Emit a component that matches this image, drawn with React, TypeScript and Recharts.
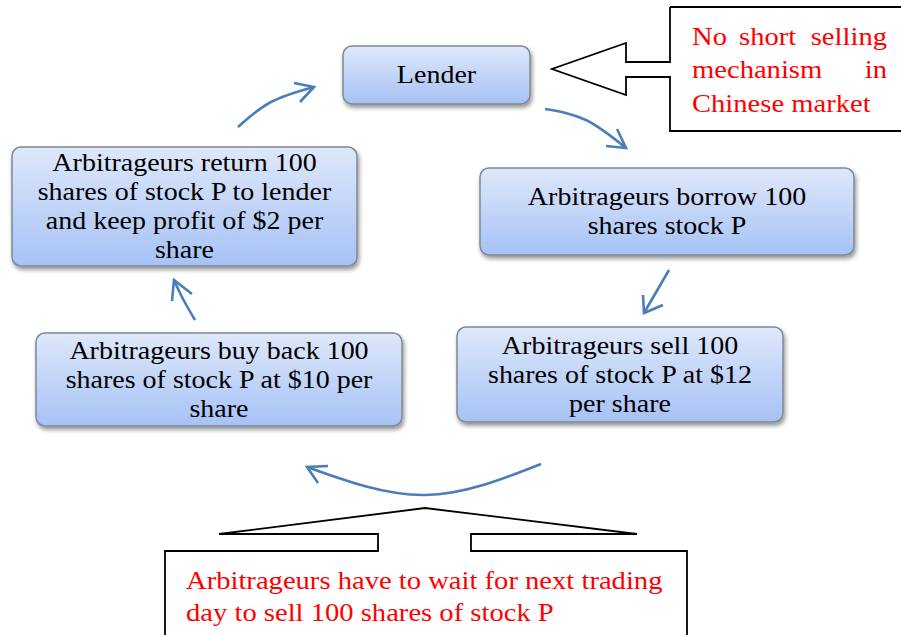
import React from 'react';
import { ComposedChart, Line, XAxis, YAxis, ReferenceArea } from 'recharts';

const W = 901;
const H = 635;

// step boxes (diagram units = pixels of the original figure)
const boxLabels = [
  ['Lender'],
  ['Arbitrageurs return 100', 'shares of stock P to lender', 'and keep profit of $2 per', 'share'],
  ['Arbitrageurs borrow 100', 'shares stock P'],
  ['Arbitrageurs buy back 100', 'shares of stock P at $10 per', 'share'],
  ['Arbitrageurs sell 100', 'shares of stock P at $12', 'per share'],
];
const boxLeft = [343, 12, 480, 36, 457];
const boxRight = [530, 357, 854, 402, 783];
const boxTop = [46, 147, 168, 333, 327];
const boxBottom = [104, 266, 255, 426, 422];

// blue flow arrows: shaft points, then arrow head (arm, tip, arm)
const arrowShafts = [
  [{ x: 238, y: 127 }, { x: 271, y: 102 }, { x: 314, y: 87 }],
  [{ x: 545, y: 109 }, { x: 586, y: 120 }, { x: 626, y: 148 }],
  [{ x: 669, y: 270 }, { x: 644, y: 313 }],
  [{ x: 541, y: 464 }, { x: 425, y: 495 }, { x: 307, y: 467 }],
  [{ x: 195, y: 320 }, { x: 183, y: 299 }, { x: 174, y: 280 }],
];
const arrowHeads = [
  [{ x: 294, y: 83 }, { x: 314, y: 87 }, { x: 300, y: 102 }],
  [{ x: 617, y: 129 }, { x: 626, y: 148 }, { x: 606, y: 146 }],
  [{ x: 643, y: 295 }, { x: 644, y: 313 }, { x: 663, y: 305 }],
  [{ x: 328, y: 466 }, { x: 307, y: 467 }, { x: 318, y: 483 }],
  [{ x: 172, y: 301 }, { x: 174, y: 280 }, { x: 192, y: 294 }],
];

// callout outlines
const topCallout = [
  { x: 670, y: 7 }, { x: 910, y: 7 }, { x: 910, y: 131 }, { x: 670, y: 131 },
  { x: 670, y: 77 }, { x: 626, y: 77 }, { x: 626, y: 95 }, { x: 552, y: 69 },
  { x: 626, y: 43 }, { x: 626, y: 62 }, { x: 670, y: 62 }, { x: 670, y: 7 },
];
const bottomCallout = [
  { x: 165, y: 645 }, { x: 165, y: 551 }, { x: 378, y: 551 }, { x: 378, y: 534 },
  { x: 219, y: 534 }, { x: 425, y: 508 }, { x: 637, y: 534 }, { x: 471, y: 534 },
  { x: 471, y: 551 }, { x: 687, y: 551 }, { x: 687, y: 645 },
];

const topNote = [['No', 'short', 'selling'], ['mechanism', 'in'], ['Chinese market']];
const bottomNote = ['Arbitrageurs have to wait for next trading', 'day to sell 100 shares of stock P'];

const SERIF = "'Liberation Serif', 'Times New Roman', serif";
const BLUE = '#4a7ebb';

const Stretch = ({ x, y, anchor, size, fill, sx = 1.1, children }: any) => (
  <text
    transform={`translate(${x},${y}) scale(${sx},1)`}
    textAnchor={anchor}
    fontFamily={SERIF}
    fontSize={size}
    fill={fill}
  >
    {children}
  </text>
);

const StepBox = (props: any) => {
  const { x, y, width, height, lines } = props;
  const cx = x + width / 2;
  const cy = y + height / 2;
  const n = lines.length;
  return (
    <g>
      <rect x={x} y={y} width={width} height={height} rx={9} fill="url(#boxFill)" stroke="#7f8896" strokeWidth={1.5} filter="url(#boxShadow)" />
      {lines.map((t: string, i: number) => (
        <Stretch key={i} x={cx} y={cy + (i - (n - 1) / 2) * 29 + 8} anchor="middle" size={25} sx={1.12} fill="#000">
          {t}
        </Stretch>
      ))}
    </g>
  );
};

// justified red text in the top-right note
const TopNoteText = (props: any) => {
  const { x, y, width } = props;
  const left = x + 22;
  const right = x + width - 14;
  const base = [y + 38, y + 71, y + 105];
  return (
    <g>
      <Stretch x={left} y={base[0]} anchor="start" size={26} fill="#ff0000">{topNote[0][0]}</Stretch>
      <Stretch x={left + 47} y={base[0]} anchor="start" size={26} fill="#ff0000">{topNote[0][1]}</Stretch>
      <Stretch x={right} y={base[0]} anchor="end" size={26} fill="#ff0000">{topNote[0][2]}</Stretch>
      <Stretch x={left} y={base[1]} anchor="start" size={26} fill="#ff0000">{topNote[1][0]}</Stretch>
      <Stretch x={right} y={base[1]} anchor="end" size={26} fill="#ff0000">{topNote[1][1]}</Stretch>
      <Stretch x={left} y={base[2]} anchor="start" size={26} fill="#ff0000">{topNote[2][0]}</Stretch>
    </g>
  );
};

const BottomNoteText = (props: any) => {
  const { x, y } = props;
  return (
    <g>
      {bottomNote.map((t, i) => (
        <Stretch key={i} x={x + 21} y={y + 38 + i * 32} anchor="start" size={26} fill="#ff0000">{t}</Stretch>
      ))}
    </g>
  );
};

export default function App() {
  return (
    <div style={{ position: 'absolute', left: 0, top: 0, width: W, height: H, background: '#fff' }}>
      <ComposedChart width={W} height={H} margin={{ top: 0, right: 0, bottom: 0, left: 0 }}>
        <defs>
          <linearGradient id="boxFill" x1="0" y1="0" x2="0" y2="1">
            <stop offset="0%" stopColor="#dfe8fb" />
            <stop offset="100%" stopColor="#a6c2f5" />
          </linearGradient>
          <filter id="boxShadow" x="-10%" y="-20%" width="120%" height="150%">
            <feDropShadow dx={1.5} dy={3} stdDeviation={2} floodColor="#000" floodOpacity={0.42} />
          </filter>
        </defs>
        <XAxis type="number" dataKey="x" domain={[0, W]} allowDataOverflow hide />
        <YAxis type="number" dataKey="y" domain={[0, H]} reversed allowDataOverflow hide />

        {boxLabels.map((lines, i) => (
          <ReferenceArea
            key={'box' + i}
            x1={boxLeft[i]}
            x2={boxRight[i]}
            y1={boxTop[i]}
            y2={boxBottom[i]}
            ifOverflow="visible"
            shape={(p: any) => <StepBox {...p} lines={lines} />}
          />
        ))}

        <Line data={topCallout} dataKey="y" type="linear" stroke="#000" strokeWidth={1.8} dot={false} isAnimationActive={false} />
        <Line data={bottomCallout} dataKey="y" type="linear" stroke="#000" strokeWidth={1.8} dot={false} isAnimationActive={false} />
        <ReferenceArea x1={670} x2={W} y1={7} y2={131} ifOverflow="visible" shape={(p: any) => <TopNoteText {...p} />} />
        <ReferenceArea x1={165} x2={687} y1={551} y2={H} ifOverflow="visible" shape={(p: any) => <BottomNoteText {...p} />} />

        {arrowShafts.map((pts, i) => (
          <Line key={'shaft' + i} data={pts} dataKey="y" type="natural" stroke={BLUE} strokeWidth={2.6} dot={false} isAnimationActive={false} />
        ))}
        {arrowHeads.map((pts, i) => (
          <Line key={'head' + i} data={pts} dataKey="y" type="linear" stroke={BLUE} strokeWidth={2.6} dot={false} isAnimationActive={false} />
        ))}
      </ComposedChart>
    </div>
  );
}
